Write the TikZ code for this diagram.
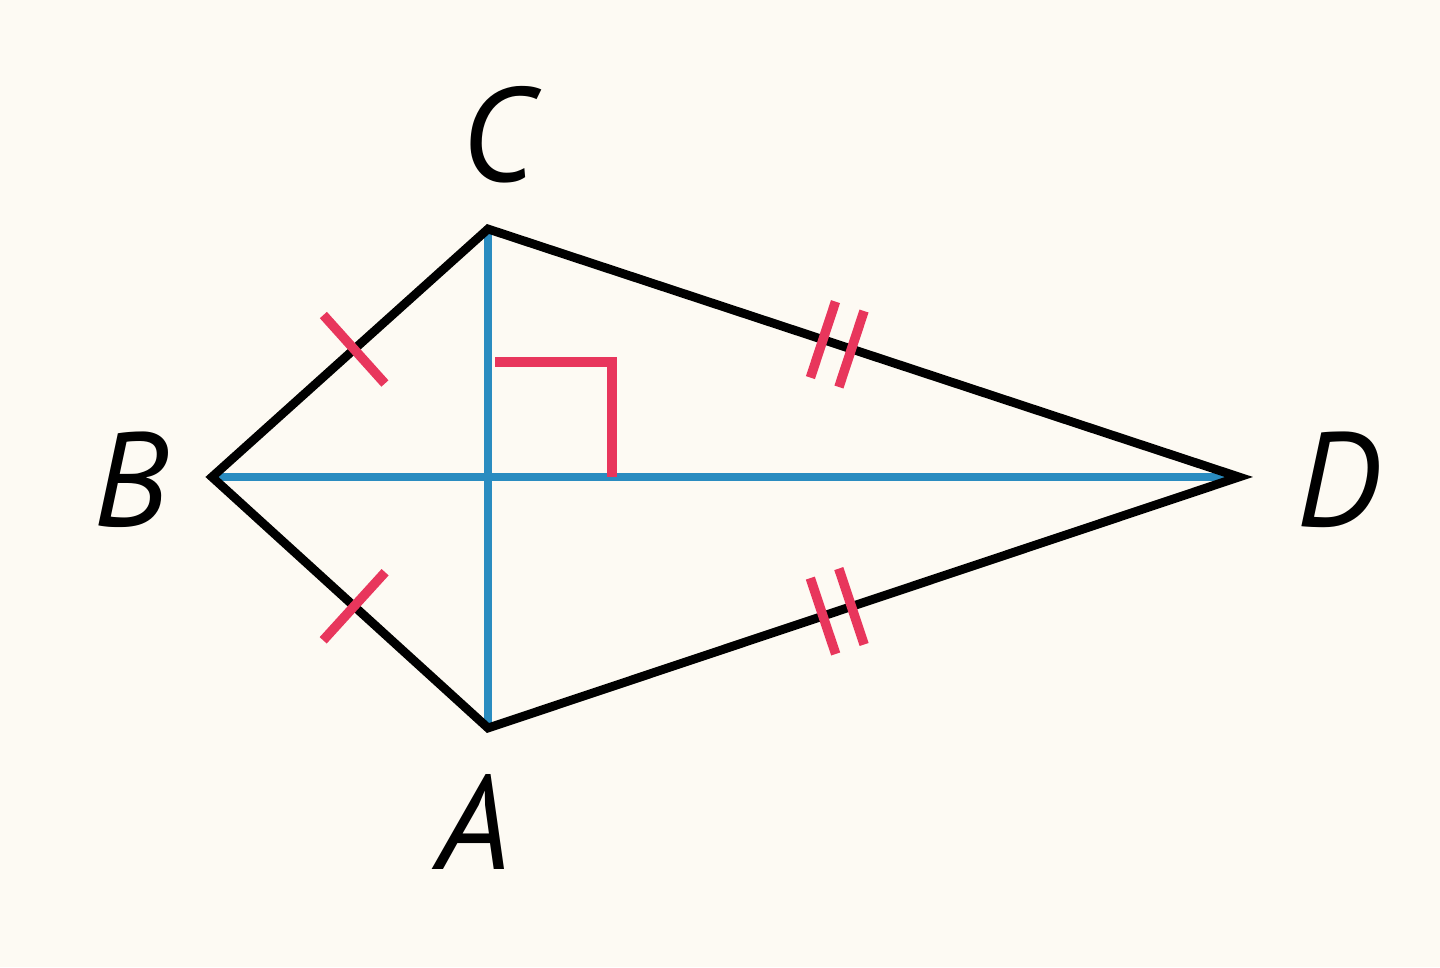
\documentclass[tikz,border=0pt]{standalone}
\usepackage{fontspec}
\setmainfont{PT Sans}
\usetikzlibrary{calc}
\definecolor{bg}{RGB}{253,250,243}
\definecolor{kblue}{RGB}{42,140,192}
\definecolor{kred}{RGB}{232,54,92}
\tikzset{
  edge/.style={line width=2.5pt, black, line join=miter},
  diag/.style={line width=2.5pt, kblue},
  redmark/.style={line width=2.7pt, kred},
  lbl/.style={inner sep=0pt, font=\fontsize{38}{40}\selectfont\itshape}
}
\begin{document}
\begin{tikzpicture}[x=0.01cm,y=-0.01cm]
  \fill[bg] (0,0) rectangle (1440,967);
  \useasboundingbox (0,0) rectangle (1440,967);
  \coordinate (C) at (488,229);
  \coordinate (B) at (212,477);
  \coordinate (A) at (488,728);
  \coordinate (D) at (1239,477);
  \coordinate (O) at (488,477);
  % diagonals
  \draw[diag] (C) -- (A);
  \draw[diag] (B) -- (D);
  % kite
  \draw[edge] (B) -- (C) -- (D) -- (A) -- cycle;
  % right angle
  \coordinate (R1) at (495,362);
  \coordinate (R2) at (612,362);
  \coordinate (R3) at (612,477);
  \draw[redmark] (R1) -- (R2) -- (R3);
  % single ticks
  \coordinate (T1) at ($(B)!0.515!(C)$);
  \draw[redmark] ($(T1)!0.46cm!90:(C)$) -- ($(T1)!0.46cm!-90:(C)$);
  \coordinate (T2) at ($(B)!0.515!(A)$);
  \draw[redmark] ($(T2)!0.46cm!90:(A)$) -- ($(T2)!0.46cm!-90:(A)$);
  % double ticks
  \coordinate (M1) at ($(C)!0.465!(D)$);
  \coordinate (M1a) at ($(M1)!-0.15cm!(D)$);
  \coordinate (M1b) at ($(M1)!0.15cm!(D)$);
  \draw[redmark] ($(M1a)!0.4cm!90:(D)$) -- ($(M1a)!0.4cm!-90:(D)$);
  \draw[redmark] ($(M1b)!0.4cm!90:(D)$) -- ($(M1b)!0.4cm!-90:(D)$);
  \coordinate (M2) at ($(A)!0.465!(D)$);
  \coordinate (M2a) at ($(M2)!-0.15cm!(D)$);
  \coordinate (M2b) at ($(M2)!0.15cm!(D)$);
  \draw[redmark] ($(M2a)!0.4cm!90:(D)$) -- ($(M2a)!0.4cm!-90:(D)$);
  \draw[redmark] ($(M2b)!0.4cm!90:(D)$) -- ($(M2b)!0.4cm!-90:(D)$);
  % labels
  \node[lbl] (lC) at (498,135) {C};
  \node[lbl] (lB) at (131,480) {B};
  \node[lbl] (lD) at (1338,480) {D};
  \node[lbl] (lA) at (474,822) {A};
\end{tikzpicture}
\end{document}
